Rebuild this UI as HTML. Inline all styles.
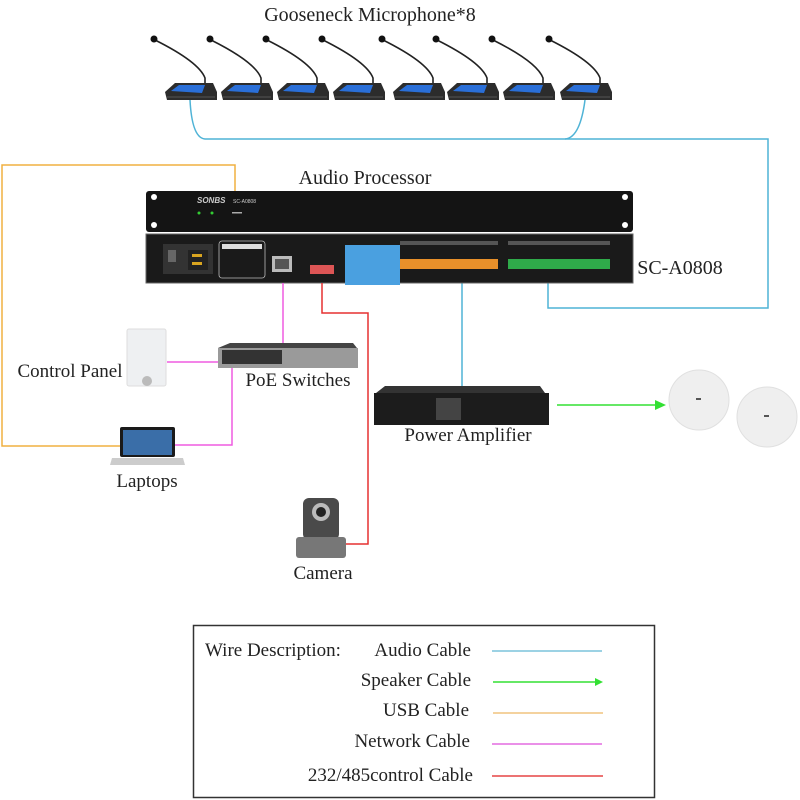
<!DOCTYPE html>
<html><head><meta charset="utf-8"><style>
html,body{margin:0;padding:0;background:#fff}
svg{display:block}
text{font-family:"Liberation Serif",serif;fill:#222}
</style></head><body>
<svg width="800" height="800" viewBox="0 0 800 800" xmlns="http://www.w3.org/2000/svg">
<defs>
<g id="mic">
<path d="M40 84 L40 78 Q34 62 -10 40" stroke="#222" stroke-width="1.6" fill="none"/>
<circle cx="-11" cy="39" r="3.5" fill="#111"/>
<path d="M0 92 L10 83 L48 83 L52 92 L52 100 L2 100 Z" fill="#2c2c2c"/>
<path d="M6 91 L14 85 L40 85 L37 93 Z" fill="#2a6fd8"/>
<path d="M2 97 L50 97" stroke="#555" stroke-width="1"/>
</g>
</defs>
<text x="370" y="21" font-size="20" text-anchor="middle">Gooseneck Microphone*8</text>
<use href="#mic" x="165"/><use href="#mic" x="221"/><use href="#mic" x="277"/><use href="#mic" x="333"/>
<use href="#mic" x="393"/><use href="#mic" x="447"/><use href="#mic" x="503"/><use href="#mic" x="560"/>
<path d="M190 100 Q192 138 205 139 L565 139 Q580 138 585 100" stroke="#4fb3d6" stroke-width="1.5" fill="none"/>
<path d="M565 139 L768 139 L768 308 L548 308 L548 283" stroke="#4fb3d6" stroke-width="1.5" fill="none"/>
<path d="M462 283 L462 388" stroke="#4fb3d6" stroke-width="1.5" fill="none"/>
<path d="M235 205 L235 165 L2 165 L2 446 L122 446" stroke="#f0b040" stroke-width="1.5" fill="none"/>
<text x="365" y="184" font-size="20" text-anchor="middle">Audio Processor</text>
<rect x="146" y="191" width="487" height="41" rx="3" fill="#141414"/>
<circle cx="154" cy="197" r="3" fill="#fff"/><circle cx="154" cy="225" r="3" fill="#fff"/>
<circle cx="625" cy="197" r="3" fill="#fff"/><circle cx="625" cy="225" r="3" fill="#fff"/>
<text x="197" y="203" font-size="8" font-style="italic" font-weight="bold" style="fill:#ccc;font-family:'Liberation Sans',sans-serif">SONBS</text>
<text x="233" y="203" font-size="5" style="fill:#ccc;font-family:'Liberation Sans',sans-serif">SC-A0808</text>
<circle cx="199" cy="213" r="1.5" fill="#3c3"/><circle cx="212" cy="213" r="1.5" fill="#3c3"/>
<rect x="232" y="212" width="10" height="1.5" fill="#aaa"/>
<rect x="146" y="234" width="487" height="49" fill="#1a1a1a" stroke="#666" stroke-width="1"/>
<rect x="163" y="244" width="50" height="30" fill="#333"/>
<rect x="168" y="250" width="8" height="12" fill="#666"/>
<rect x="188" y="250" width="20" height="20" fill="#222"/><rect x="192" y="254" width="10" height="3" fill="#d9a520"/><rect x="192" y="262" width="10" height="3" fill="#d9a520"/>
<rect x="219" y="241" width="46" height="37" rx="3" fill="none" stroke="#bbb" stroke-width="0.8"/>
<rect x="222" y="244" width="40" height="5" fill="#ddd"/>
<rect x="272" y="256" width="20" height="16" fill="#bbb"/><rect x="275" y="259" width="14" height="10" fill="#555"/>
<rect x="310" y="265" width="24" height="9" fill="#d55"/>
<rect x="345" y="245" width="55" height="40" fill="#4aa0e0"/>
<rect x="400" y="259" width="98" height="10" fill="#e8902a"/>
<rect x="508" y="259" width="102" height="10" fill="#2faa4a"/>
<rect x="400" y="241" width="98" height="4" fill="#555"/><rect x="508" y="241" width="102" height="4" fill="#555"/>
<text x="680" y="274" font-size="20" text-anchor="middle">SC-A0808</text>
<path d="M283 283 L283 345" stroke="#ef5be0" stroke-width="1.5" fill="none"/>
<path d="M167 362 L218 362" stroke="#ef5be0" stroke-width="1.5" fill="none"/>
<path d="M175 445 L232 445 L232 368" stroke="#ef5be0" stroke-width="1.5" fill="none"/>
<path d="M322 283 L322 313 L368 313 L368 544 L345 544" stroke="#e53030" stroke-width="1.5" fill="none"/>
<rect x="127" y="329" width="39" height="57" rx="2" fill="#eef0f2" stroke="#ddd"/>
<circle cx="147" cy="381" r="5" fill="#bbb"/>
<text x="70" y="377" font-size="19" text-anchor="middle">Control Panel</text>
<path d="M218 348 L230 343 L353 343 L357 348 Z" fill="#444"/>
<rect x="218" y="348" width="140" height="20" fill="#9a9a9a"/>
<rect x="222" y="350" width="60" height="14" fill="#333"/>
<text x="298" y="386" font-size="19" text-anchor="middle">PoE Switches</text>
<rect x="120" y="427" width="55" height="30" rx="2" fill="#1a1a1a"/>
<rect x="123" y="430" width="49" height="25" fill="#3a6ea8"/>
<path d="M112 458 L183 458 L185 465 L110 465 Z" fill="#ccc"/>
<text x="147" y="487" font-size="19" text-anchor="middle">Laptops</text>
<path d="M376 393 L385 386 L540 386 L545 393 Z" fill="#333"/>
<rect x="374" y="393" width="175" height="32" fill="#1c1c1c"/>
<rect x="436" y="398" width="25" height="22" fill="#444"/>
<text x="468" y="441" font-size="19" text-anchor="middle">Power Amplifier</text>
<line x1="557" y1="405" x2="656" y2="405" stroke="#33e033" stroke-width="1.5"/>
<polygon points="666,405 655,400 655,410" fill="#33e033"/>
<circle cx="699" cy="400" r="30" fill="#efefef" stroke="#e0e0e0"/>
<circle cx="767" cy="417" r="30" fill="#efefef" stroke="#e0e0e0"/>
<rect x="696" y="398" width="5" height="2" fill="#555"/><rect x="764" y="415" width="5" height="2" fill="#555"/>
<rect x="303" y="498" width="36" height="42" rx="6" fill="#4a4a4a"/>
<circle cx="321" cy="512" r="9" fill="#bbb"/><circle cx="321" cy="512" r="5" fill="#222"/>
<rect x="296" y="537" width="50" height="21" rx="3" fill="#777"/>
<text x="323" y="579" font-size="19" text-anchor="middle">Camera</text>
<rect x="193.5" y="625.5" width="461" height="172" fill="none" stroke="#333" stroke-width="1.5"/>
<text x="205" y="656" font-size="19">Wire Description:</text>
<text x="471" y="656" font-size="19" text-anchor="end">Audio Cable</text>
<line x1="492" y1="651" x2="602" y2="651" stroke="#7cc3dc" stroke-width="1.5"/>
<text x="471" y="686" font-size="19" text-anchor="end">Speaker Cable</text>
<line x1="493" y1="682" x2="595" y2="682" stroke="#33e033" stroke-width="1.5"/>
<polygon points="603,682 595,678 595,686" fill="#33e033"/>
<text x="469" y="716" font-size="19" text-anchor="end">USB Cable</text>
<line x1="493" y1="713" x2="603" y2="713" stroke="#f0c47e" stroke-width="1.5"/>
<text x="470" y="747" font-size="19" text-anchor="end">Network Cable</text>
<line x1="492" y1="744" x2="602" y2="744" stroke="#e36be0" stroke-width="1.5"/>
<text x="473" y="781" font-size="19" text-anchor="end">232/485control Cable</text>
<line x1="492" y1="776" x2="603" y2="776" stroke="#e54545" stroke-width="1.5"/>
</svg>
</body></html>
